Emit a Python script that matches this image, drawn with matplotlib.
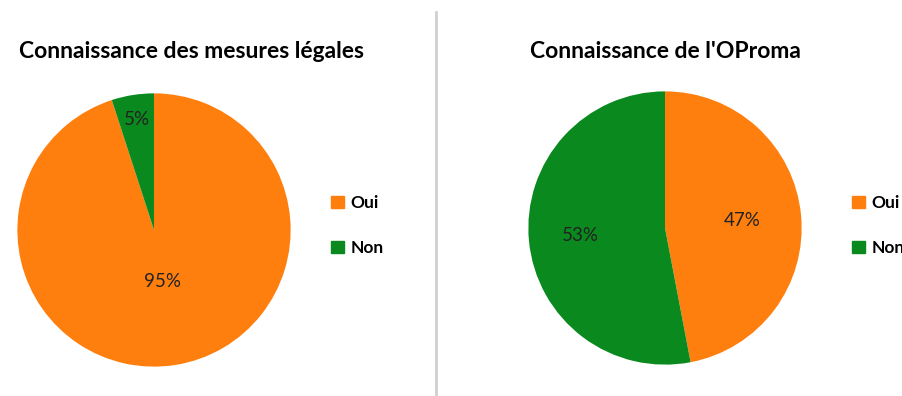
import matplotlib.pyplot as plt
from matplotlib.patches import Patch
from matplotlib.lines import Line2D

plt.rcParams['font.family'] = ['Lato', 'DejaVu Sans']

categories = ['Oui', 'Non']
legal_values = [95, 5]
oproma_values = [47, 53]
titles = ['Connaissance des mesures légales', "Connaissance de l'OProma"]
colors = ['#FF7F0E', '#0A8A1E']

fig = plt.figure(figsize=(9.03, 3.96), dpi=100)

def draw_pie(rect, values, title, dists, title_x, leg_x):
    ax = fig.add_axes(rect)
    wedges, texts, autotexts = ax.pie(values, colors=colors, startangle=90, counterclock=False,
                                      autopct=lambda p: f'{round(p)}%', pctdistance=0.6,
                                      textprops={'fontsize': 13.5, 'color': '#222222'})
    for t, d in zip(autotexts, dists):
        x, y = t.get_position()
        t.set_position((x / 0.6 * d, y / 0.6 * d))
    ax.set_xlim(-1.01, 1.01)
    ax.set_ylim(-1.01, 1.01)
    fig.text(title_x, 0.87, title, ha='center', va='center', fontsize=16.5, fontweight='bold')
    handles = [Patch(color=c, label=l) for c, l in zip(colors, categories)]
    fig.legend(handles=handles, loc='center left', bbox_to_anchor=(leg_x, 0.43), frameon=False,
               handlelength=0.7, handleheight=0.7, handletextpad=0.4, labelspacing=1.7,
               borderpad=0.2, borderaxespad=0.0,
               prop={'weight': 'bold', 'size': 12.5})

draw_pie([16 / 903, 28 / 396, 276 / 903, 276 / 396], legal_values, titles[0], [0.38, 0.82], 192 / 903, 328 / 903)
draw_pie([527 / 903, 30 / 396, 276 / 903, 276 / 396], oproma_values, titles[1], [0.57, 0.62], 665 / 903, 849 / 903)

fig.add_artist(Line2D([436 / 903, 436 / 903], [0, 384 / 396], color='#d0d0d0', lw=2))

fig.savefig('out.png', dpi=100)
